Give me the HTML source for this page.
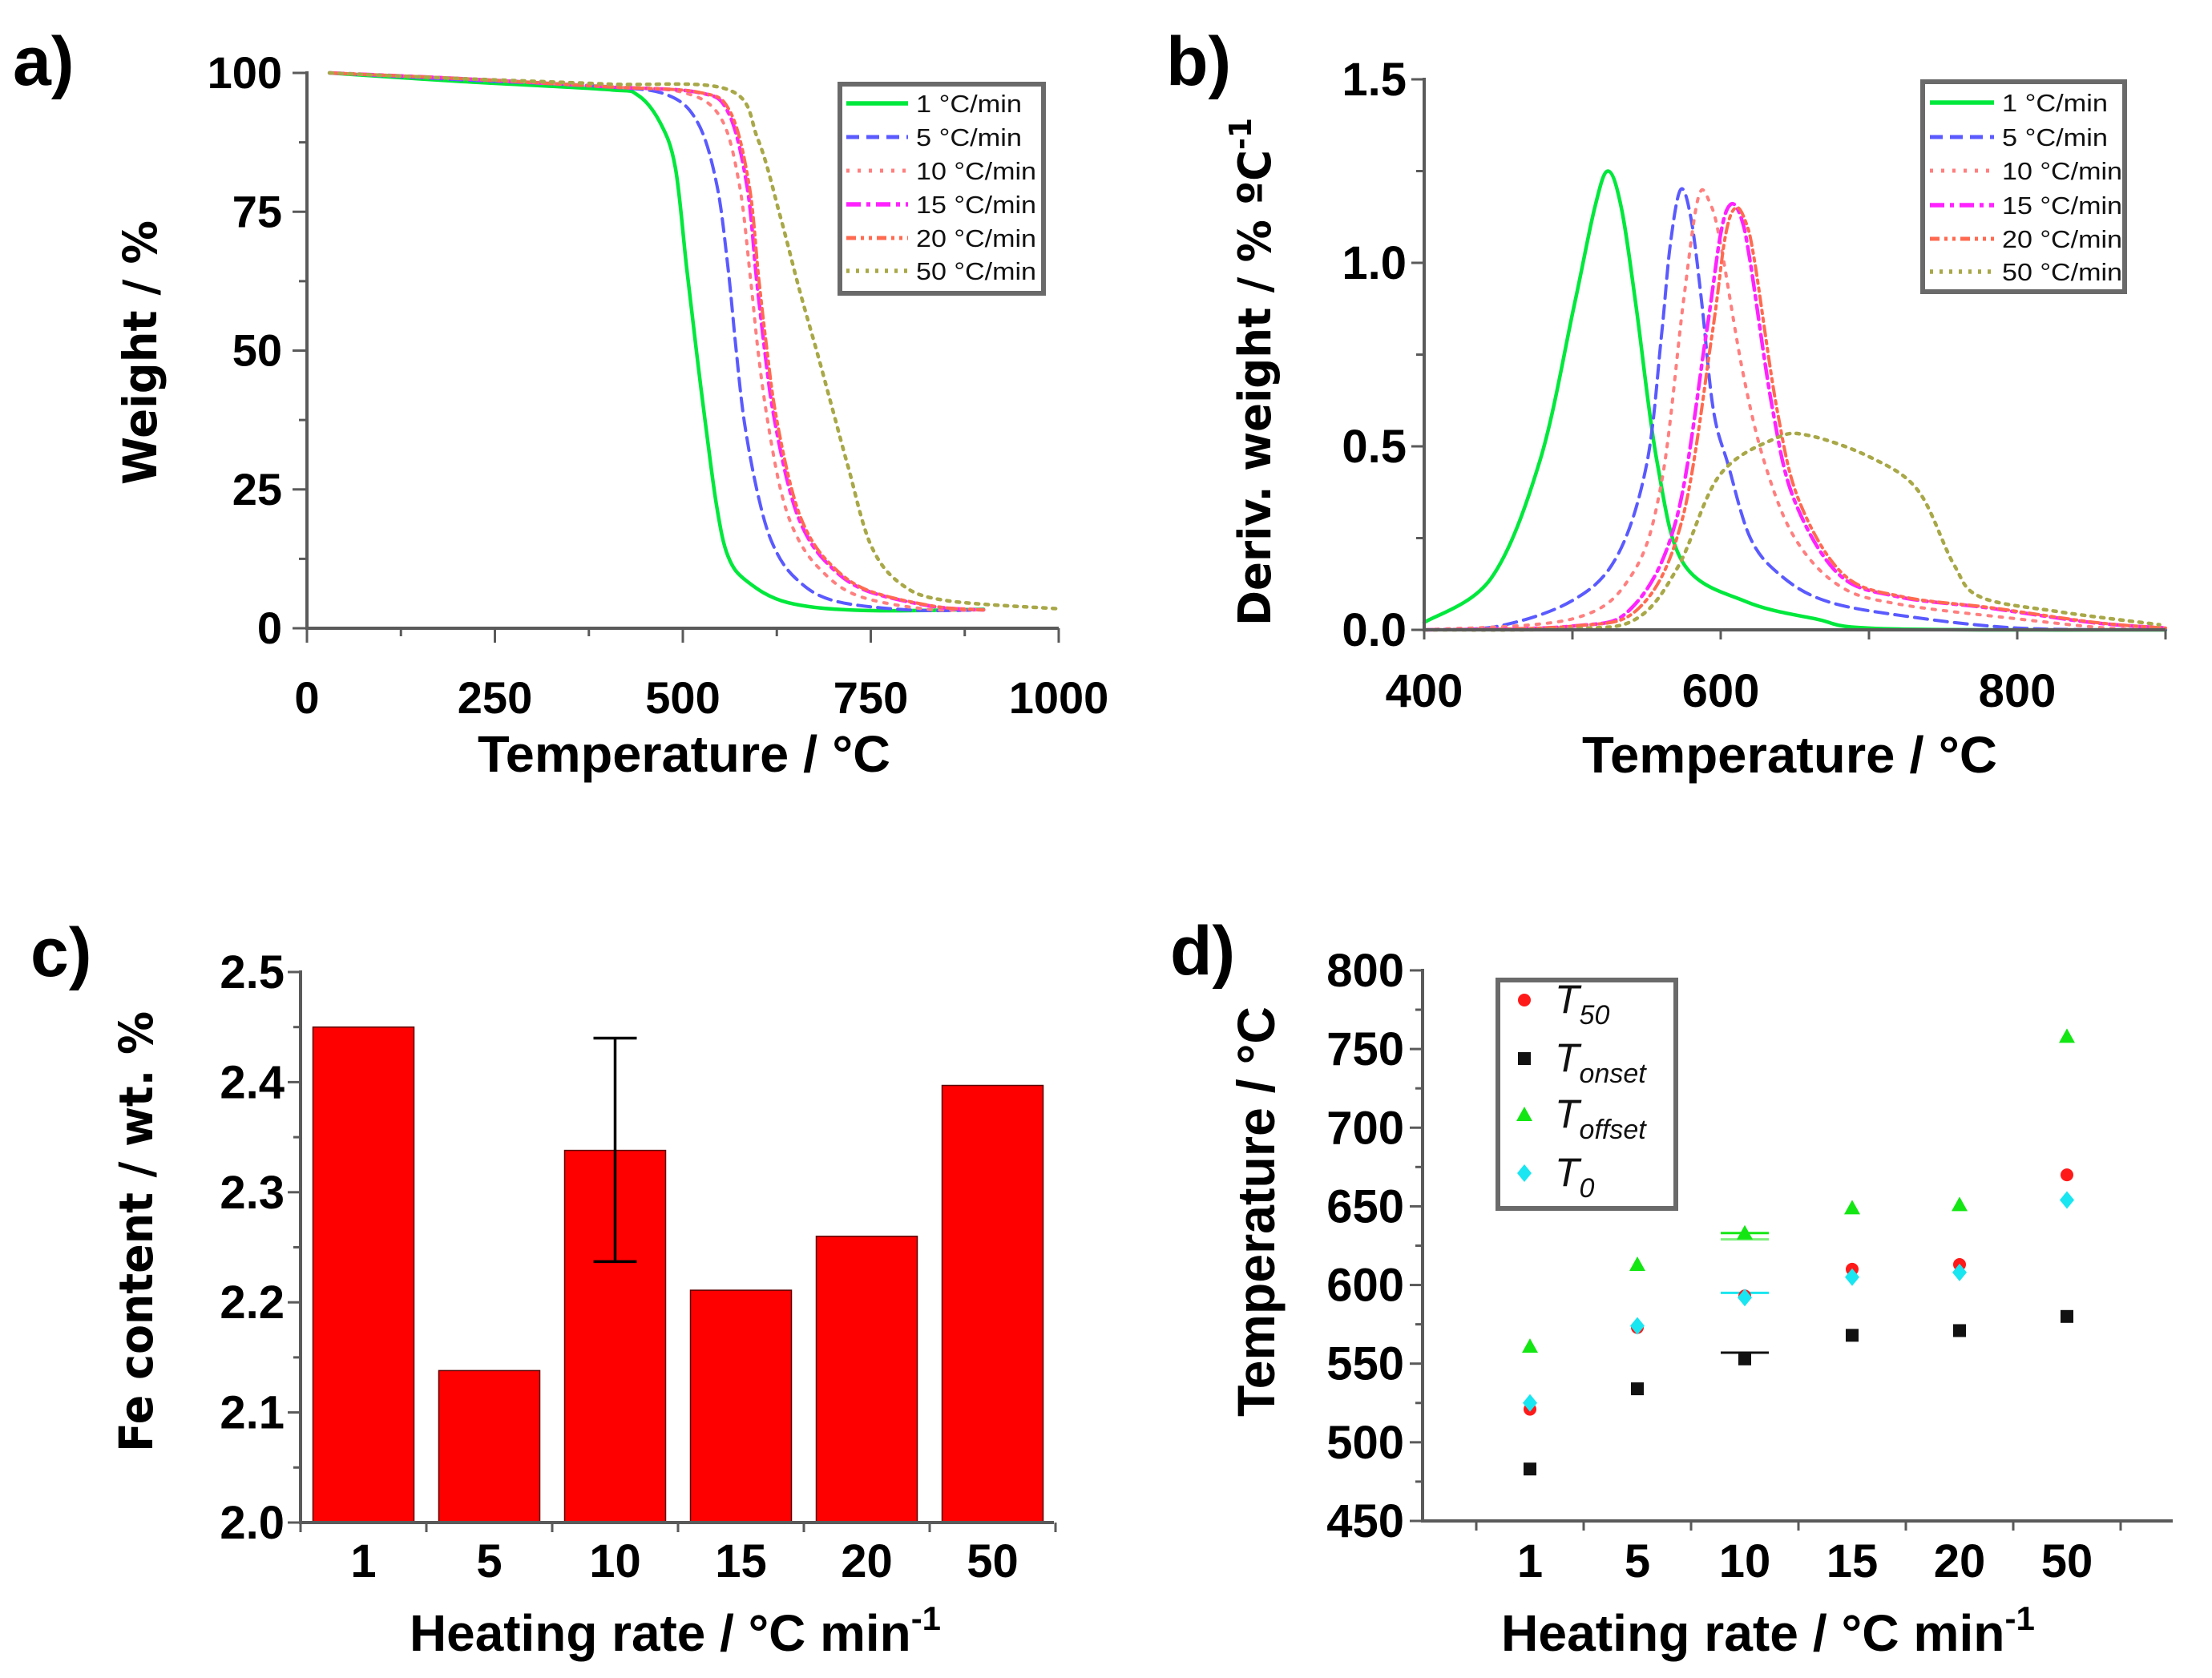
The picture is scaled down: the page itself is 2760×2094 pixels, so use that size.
<!DOCTYPE html>
<html><head><meta charset="utf-8"><style>
html,body{margin:0;padding:0;background:#fff;}
svg{display:block;}
.t{font-family:"Liberation Sans Narrow","Liberation Sans",sans-serif;font-weight:bold;fill:#000;}
.w{font-family:"DejaVu Sans","Liberation Sans",sans-serif;font-weight:bold;fill:#000;}
.lg{font-family:"Liberation Sans",sans-serif;fill:#111;}
</style></head><body>
<svg id="fig" width="2760" height="2094" viewBox="0 0 2760 2094" xmlns="http://www.w3.org/2000/svg">
<rect x="0" y="0" width="2760" height="2094" fill="#fff"/>
<text class="t" x="16" y="106" font-size="86">a)</text>
<text class="t" x="1455" y="106" font-size="86">b)</text>
<text class="t" x="38" y="1218" font-size="86">c)</text>
<text class="t" x="1460" y="1216" font-size="86">d)</text>
<text class="t" x="596" y="963" font-size="64" textLength="515" lengthAdjust="spacingAndGlyphs">Temperature / °C</text>
<text class="w" transform="translate(195,605) rotate(-90)" font-size="58" textLength="330" lengthAdjust="spacingAndGlyphs">Weight / %</text>
<text class="t" x="1974" y="964" font-size="64" textLength="518" lengthAdjust="spacingAndGlyphs">Temperature / °C</text>
<text class="w" transform="translate(1585,781) rotate(-90)" font-size="56" textLength="634" lengthAdjust="spacingAndGlyphs">Deriv. weight / % ºC<tspan font-size="38" dy="-24">-1</tspan></text>
<text class="t" x="511" y="2060" font-size="64" textLength="663" lengthAdjust="spacingAndGlyphs">Heating rate / °C min<tspan font-size="42" dy="-26">-1</tspan></text>
<text class="w" transform="translate(190,1812) rotate(-90)" font-size="58" textLength="550" lengthAdjust="spacingAndGlyphs">Fe content / wt. %</text>
<text class="t" x="1873" y="2060" font-size="64" textLength="666" lengthAdjust="spacingAndGlyphs">Heating rate / °C min<tspan font-size="42" dy="-26">-1</tspan></text>
<text class="t" transform="translate(1590,1768) rotate(-90)" font-size="66" textLength="512" lengthAdjust="spacingAndGlyphs">Temperature / °C</text>
<g id="gA"></g>
<g id="gB"></g>
<g id="gC"></g>
<g id="gD"></g>
</svg>
<script>
const seriesNames = ["1 °C/min","5 °C/min","10 °C/min","15 °C/min","20 °C/min","50 °C/min"];
const tgaT1 = [30,200,400,440,470,490,505,518,530,545,560,585,640,740,900];
const tgaW1 = [100,98.5,97,96,91,83,65,50,37,22,13,8.5,4.6,3.2,3.4];
const tgaT5 = [30,200,400,480,520,545,560,571,582,600,620,650,700,800,900];
const tgaW5 = [100,98.8,97.5,96,91,80,65,50,37,24,15,9,5,3.3,3.3];
const tgaT10 = [30,200,400,500,550,575,590,600,612,630,650,680,730,820,900];
const tgaW10 = [100,99,97.5,96.5,92,80,63,50,38,25,17,11,6,3.5,3.3];
const tgaT15 = [30,200,400,520,560,585,598,609,620,640,660,690,740,830,900];
const tgaW15 = [100,99,97.5,96.5,93,80,63,50,39,26,18,12,7,4,3.3];
const tgaT20 = [30,200,400,522,563,588,601,612,623,643,663,693,743,833,900];
const tgaW20 = [100,99,97.5,96.5,93,80,63,50,39,26,18,12,7,4,3.3];
const tgaT50 = [30,200,400,560,600,630,655,680,700,720,750,790,850,1000];
const tgaW50 = [100,99,98,97,88,74,61,49,39,29,15,8,5,3.5];
const dtgT1 = [400,445,478,501,515,524,533,543,557,575,617,664,710,900];
const dtgD1 = [0.02,0.14,0.46,0.88,1.15,1.25,1.15,0.88,0.46,0.18,0.077,0.03,0.003,0];
const dtgT5 = [400,450,500,530,550,560,566,573,580,587,595,605,620,640,670,720,800,900];
const dtgD5 = [0,0.01,0.08,0.2,0.45,0.8,1.05,1.2,1.12,0.9,0.6,0.45,0.25,0.15,0.08,0.04,0.005,0];
const dtgT10 = [400,500,540,560,575,585,593,600,615,630,650,680,720,800,860,900];
const dtgD10 = [0,0.03,0.15,0.4,0.9,1.18,1.16,1.05,0.7,0.45,0.25,0.12,0.07,0.03,0.005,0];
const dtgT15 = [400,500,540,570,590,600,607,614,620,635,650,680,720,780,850,900];
const dtgD15 = [0,0.01,0.06,0.3,0.8,1.08,1.16,1.12,1.0,0.6,0.35,0.15,0.09,0.06,0.02,0.005];
const dtgT20 = [400,500,545,574,594,603,610,617,623,638,653,683,723,783,853,900];
const dtgD20 = [0,0.01,0.06,0.3,0.8,1.07,1.15,1.11,1.0,0.6,0.35,0.15,0.09,0.06,0.02,0.005];
const dtgT50 = [400,500,543,571,599,636,659,701,733,757,775,827,896];
const dtgD50 = [0,0.003,0.03,0.17,0.42,0.52,0.53,0.47,0.38,0.18,0.09,0.05,0.014];
const rateLabels = ["1","5","10","15","20","50"];
const feValues = [2.45,2.138,2.338,2.211,2.26,2.397];
const feErrLow = [null,null,2.237,null,null,null];
const feErrHigh = [null,null,2.44,null,null,null];
const t50Vals = [521,573,593,610,613,670];
const tOnsetVals = [483,534,553,568,571,580];
const tOffsetVals = [561,613,633,649,651,758];
const t0Vals = [525,574,592,605,608,654];
const ticksAx = [0,250,500,750,1000];
const ticksAy = [0,25,50,75,100];
const ticksBx = [400,600,800];
const ticksBy = ["0.0","0.5","1.0","1.5"];
const ticksCy = ["2.0","2.1","2.2","2.3","2.4","2.5"];
const ticksDy = [450,500,550,600,650,700,750,800];

const NS="http://www.w3.org/2000/svg";
function mk(tag, attrs, parent){const e=document.createElementNS(NS,tag);for(const k in attrs)e.setAttribute(k,attrs[k]);parent.appendChild(e);return e;}
function smooth(pts){let d="M"+pts[0][0].toFixed(1)+","+pts[0][1].toFixed(1);
 for(let i=0;i<pts.length-1;i++){const p0=pts[Math.max(0,i-1)],p1=pts[i],p2=pts[i+1],p3=pts[Math.min(pts.length-1,i+2)];
  const c1=[p1[0]+(p2[0]-p0[0])/6,p1[1]+(p2[1]-p0[1])/6],c2=[p2[0]-(p3[0]-p1[0])/6,p2[1]-(p3[1]-p1[1])/6];
  d+="C"+c1[0].toFixed(1)+","+c1[1].toFixed(1)+" "+c2[0].toFixed(1)+","+c2[1].toFixed(1)+" "+p2[0].toFixed(1)+","+p2[1].toFixed(1);}
 return d;}
const styles=[
 {c:"#00e83c",w:4.5,d:""},
 {c:"#5a5aff",w:4,d:"16,9"},
 {c:"#ff7f7f",w:4,d:"4,10"},
 {c:"#ff22ff",w:4.5,d:"18,7,5,7"},
 {c:"#ff6a50",w:4,d:"12,6,4,6,4,6"},
 {c:"#a8a848",w:4.5,d:"4,8"}];
const AX="#5a5a5a";

const gA=document.getElementById("gA");
const xa=t=>383+t*0.938, ya=w=>784-w*6.93;
const tgaT=[tgaT1,tgaT5,tgaT10,tgaT15,tgaT20,tgaT50], tgaW=[tgaW1,tgaW5,tgaW10,tgaW15,tgaW20,tgaW50];
for(let s=0;s<6;s++){
 const p=mk("path",{d:smooth(tgaT[s].map((t,i)=>[xa(t),ya(tgaW[s][i])])),fill:"none",stroke:styles[s].c,"stroke-width":styles[s].w,"stroke-dasharray":styles[s].d,"stroke-linecap":"round"},gA);
 
 
}
let ln=mk("path",{d:`M${xa(0)},${ya(100)-2}V${ya(0)}H${xa(1000)}`,fill:"none",stroke:AX,"stroke-width":4},gA);


for(let v=0;v<=1000;v+=125){mk("line",{x1:xa(v),x2:xa(v),y1:ya(0),y2:ya(0)+(v%250?10:18),stroke:AX,"stroke-width":3},gA);}
for(let v=0;v<=100;v+=12.5){mk("line",{x1:xa(0),x2:xa(0)-(v%25?10:18),y1:ya(v),y2:ya(v),stroke:AX,"stroke-width":3},gA);}
ticksAx.forEach(v=>{const t=mk("text",{x:xa(v),y:890,"font-size":56,"text-anchor":"middle",class:"t"},gA);t.textContent=v;
 
 });
ticksAy.forEach(v=>{const t=mk("text",{x:352,y:ya(v)+19,"font-size":56,"text-anchor":"end",class:"t"},gA);t.textContent=v;
 
 });
function legend(g,x0,y0,x1,y1,rows,lx0,lx1,tx,name){
 const r=mk("rect",{x:x0,y:y0,width:x1-x0,height:y1-y0,fill:"#fff",stroke:"#6a6a6a","stroke-width":6},g);
 
 
 for(let s=0;s<6;s++){
  mk("line",{x1:lx0,x2:lx1,y1:rows[s],y2:rows[s],stroke:styles[s].c,"stroke-width":styles[s].w+1,"stroke-dasharray":styles[s].d},g);
  const t=mk("text",{x:tx,y:rows[s]+11,"font-size":31,class:"lg",textLength:(s==0||s==1)?132:150,lengthAdjust:"spacingAndGlyphs"},g);
  t.textContent=seriesNames[s];
  
  
 }
}
legend(gA,1048,105,1302,366,[129,171,213,255,297,338],1056,1133,1143,'legend-a');

const gB=document.getElementById("gB");
const xb=t=>1777+(t-400)*1.85, yb=v=>786-v*458;
const dtgT=[dtgT1,dtgT5,dtgT10,dtgT15,dtgT20,dtgT50], dtgD=[dtgD1,dtgD5,dtgD10,dtgD15,dtgD20,dtgD50];
for(let s=0;s<6;s++){
 const p=mk("path",{d:smooth(dtgT[s].map((t,i)=>[xb(t),yb(dtgD[s][i])])),fill:"none",stroke:styles[s].c,"stroke-width":styles[s].w,"stroke-dasharray":styles[s].d,"stroke-linecap":"round"},gB);
 
 
}
ln=mk("path",{d:`M${xb(400)},${yb(1.5)-2}V${yb(0)}H${xb(900)}`,fill:"none",stroke:AX,"stroke-width":4},gB);


for(let v=400;v<=900;v+=100){mk("line",{x1:xb(v),x2:xb(v),y1:yb(0),y2:yb(0)+12,stroke:AX,"stroke-width":3},gB);}
for(let v=0;v<=1.5;v+=0.25){mk("line",{x1:xb(400),x2:xb(400)-(Math.abs(v*2-Math.round(v*2))>0.01?10:16),y1:yb(v),y2:yb(v),stroke:AX,"stroke-width":3},gB);}
ticksBx.forEach(v=>{const t=mk("text",{x:xb(v),y:882,"font-size":58,"text-anchor":"middle",class:"t"},gB);t.textContent=v;
 
 });
ticksBy.forEach(v=>{const t=mk("text",{x:1755,y:yb(parseFloat(v))+20,"font-size":58,"text-anchor":"end",class:"t"},gB);t.textContent=v;
 
 });
legend(gB,2399,102,2651,364,[128,171,213,256,298,339],2408,2488,2498,'legend-b');

const gC=document.getElementById("gC");
const band=157, xc=i=>375+band*(i+0.5), yc=v=>1900-(v-2)*1374;
feValues.forEach((v,i)=>{
 const r=mk("rect",{x:xc(i)-63,y:yc(v),width:126,height:yc(2)-yc(v),fill:"#ff0000",stroke:"#5a0000","stroke-width":1.5},gC);
 
 
 if(feErrLow[i]!==null){
  const e=mk("path",{d:`M${xc(i)},${yc(feErrLow[i])}V${yc(feErrHigh[i])}M${xc(i)-27},${yc(feErrLow[i])}h54M${xc(i)-27},${yc(feErrHigh[i])}h54`,stroke:"#000","stroke-width":3.5,fill:"none"},gC);
  
  
 }
});
ln=mk("path",{d:`M375,${yc(2.5)-2}V${yc(2)}H1315`,fill:"none",stroke:AX,"stroke-width":4},gC);


for(let i=0;i<=6;i++){mk("line",{x1:375+band*i,x2:375+band*i,y1:yc(2),y2:yc(2)+12,stroke:AX,"stroke-width":3},gC);}
for(let k=0;k<=10;k++){const v=2+k*0.05;mk("line",{x1:375,x2:375-(k%2?9:16),y1:yc(v),y2:yc(v),stroke:AX,"stroke-width":3},gC);}
rateLabels.forEach((l,i)=>{const t=mk("text",{x:xc(i),y:1968,"font-size":58,"text-anchor":"middle",class:"t"},gC);t.textContent=l;
 
 });
ticksCy.forEach(v=>{const t=mk("text",{x:355,y:yc(parseFloat(v))+20,"font-size":58,"text-anchor":"end",class:"t"},gC);t.textContent=v;
 
 });

const gD=document.getElementById("gD");
const xd=i=>1775+134*(i+1), yd=v=>1898-(v-450)*1.963;
ln=mk("path",{d:`M1775,${yd(800)-2}V${yd(450)}H2711`,fill:"none",stroke:AX,"stroke-width":4},gD);


for(let k=0;k<7;k++){mk("line",{x1:1775+134*(k+0.5),x2:1775+134*(k+0.5),y1:yd(450),y2:yd(450)+12,stroke:AX,"stroke-width":3},gD);}
for(let v=450;v<=800;v+=25){mk("line",{x1:1775,x2:1775-(v%50?9:16),y1:yd(v),y2:yd(v),stroke:AX,"stroke-width":3},gD);}
rateLabels.forEach((l,i)=>{const t=mk("text",{x:xd(i),y:1968,"font-size":58,"text-anchor":"middle",class:"t"},gD);t.textContent=l;
 
 });
ticksDy.forEach(v=>{const t=mk("text",{x:1752,y:yd(v)+20,"font-size":58,"text-anchor":"end",class:"t"},gD);t.textContent=v;
 
 });
function marker(type,x,y){
 if(type=="circle") return mk("circle",{cx:x,cy:y,r:8,fill:"#ff1a1a"},gD);
 if(type=="square") return mk("rect",{x:x-8,y:y-8,width:16,height:16,fill:"#111"},gD);
 if(type=="tri") return mk("path",{d:`M${x},${y-10}L${x+10},${y+8}L${x-10},${y+8}Z`,fill:"#14e614"},gD);
 return mk("path",{d:`M${x},${y-11}L${x+9},${y}L${x},${y+11}L${x-9},${y}Z`,fill:"#19e6f0"},gD);
}
[[633,"#14e614"],[629,"#7cf07c"],[595,"#19e6f0"],[557,"#111"]].forEach(e=>{
 const l=mk("line",{x1:xd(2)-30,x2:xd(2)+30,y1:yd(e[0]),y2:yd(e[0]),stroke:e[1],"stroke-width":3},gD);
 
 
});
[[t50Vals,"circle","t50"],[tOnsetVals,"square","tonset"],[tOffsetVals,"tri","toffset"],[t0Vals,"diamond","t0"]].forEach(s=>{
 s[0].forEach((v,i)=>{const m=marker(s[1],xd(i),yd(v));
  
  });
});
const lgD=mk("rect",{x:1869,y:1223,width:222,height:285,fill:"#fff",stroke:"#6a6a6a","stroke-width":6},gD);


const lgRows=[1256,1329,1399,1472], lgTypes=["circle","square","tri","diamond"], lgSubs=["50","onset","offset","0"];
lgRows.forEach((y,k)=>{
 const m=marker(lgTypes[k],1902,y-8);
 
 
 const t=mk("text",{x:1940,y:y+8,"font-size":50,class:"lg","font-style":"italic"},gD);
 
 
 t.innerHTML='T<tspan font-size="34" dy="14">'+lgSubs[k]+'</tspan>';
});
</script>
</body></html>
